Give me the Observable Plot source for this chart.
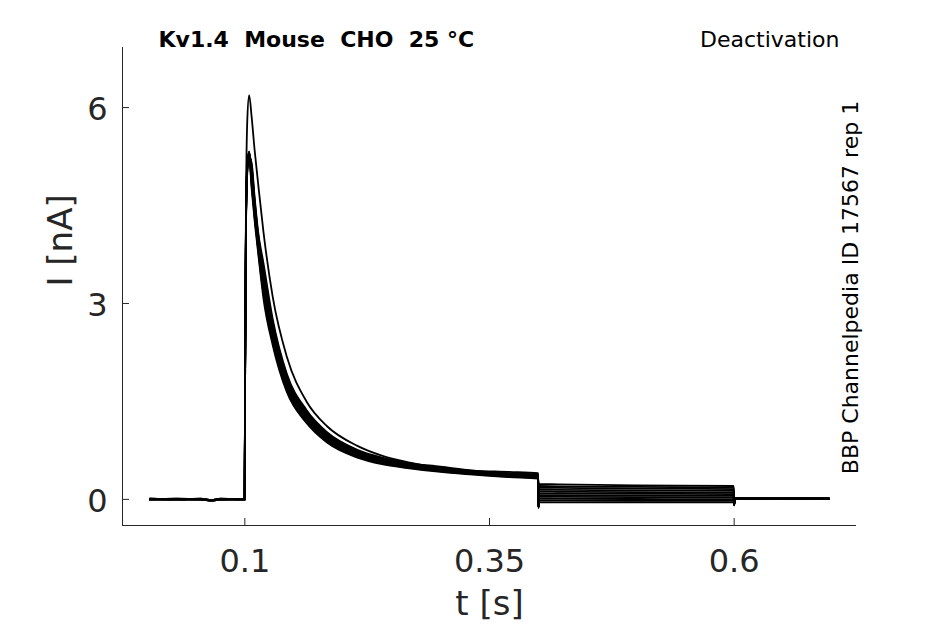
<!DOCTYPE html>
<html>
<head>
<meta charset="utf-8">
<script src="https://cdn.jsdelivr.net/npm/d3@7"></script>
<script src="https://cdn.jsdelivr.net/npm/@observablehq/plot@0.6"></script>
<style>
  html, body { margin: 0; padding: 0; background: #ffffff; }
  #chart svg { display: block; }
</style>
</head>
<body>
<div id="chart"></div>
<script>
// ---------- data ----------
const titleText = "Kv1.4  Mouse  CHO  25 °C";
const protocolText = "Deactivation";
const sideText = "BBP Channelpedia ID 17567 rep 1";
const xLabel = "t [s]";
const yLabel = "I [nA]";

const xTicks = [0.1, 0.35, 0.6];
const xTickLabels = ["0.1", "0.35", "0.6"];
const yTicks = [0, 3, 6];
const yTickLabels = ["0", "3", "6"];

const traceNames = ["A", "B1", "B2", "B3", "B4", "B5", "B6", "B7", "B8", "B9", "B10"];

// activation pulse + decay (seconds)
const tAct = [0.003, 0.03, 0.055, 0.066, 0.075, 0.0998, 0.1003, 0.1012, 0.1025, 0.1044,
              0.107, 0.110, 0.1135, 0.119, 0.1285, 0.143, 0.163, 0.184, 0.215, 0.24,
              0.266, 0.30, 0.333, 0.37, 0.3998];

// currents (nA) at tAct for each trace
const actA   = [0.00, 0.00, 0.00, -0.01, 0.00, 0.00, 2.2, 4.6, 5.8, 6.19, 5.85, 5.35, 4.85, 4.10, 3.10, 2.18, 1.50, 1.12, 0.82, 0.67, 0.57, 0.48, 0.44, 0.42, 0.40];
const actB1  = [0.00, 0.01, 0.00, -0.01, 0.00, 0.00, 1.9, 4.2, 5.00, 5.22, 4.75, 4.27, 3.79, 3.08, 2.36, 1.64, 1.17, 0.87, 0.64, 0.54, 0.48, 0.42, 0.38, 0.34, 0.32];
const actB2  = [0.01, 0.00, 0.00, -0.01, 0.01, 0.00, 2.0, 4.3, 5.05, 5.25, 4.80, 4.32, 3.83, 3.15, 2.41, 1.67, 1.19, 0.89, 0.66, 0.55, 0.49, 0.43, 0.39, 0.35, 0.33];
const actB3  = [0.00, 0.00, 0.01, -0.02, 0.00, 0.01, 2.0, 4.3, 5.10, 5.28, 4.85, 4.36, 3.87, 3.22, 2.46, 1.71, 1.22, 0.91, 0.67, 0.57, 0.50, 0.44, 0.39, 0.36, 0.34];
const actB4  = [0.00, 0.00, 0.00, -0.01, 0.00, 0.00, 2.0, 4.3, 5.10, 5.30, 4.90, 4.41, 3.91, 3.28, 2.51, 1.74, 1.24, 0.93, 0.69, 0.58, 0.51, 0.45, 0.40, 0.36, 0.34];
const actB5  = [0.01, 0.00, 0.00, -0.02, 0.00, 0.00, 2.1, 4.4, 5.15, 5.32, 4.95, 4.45, 3.95, 3.35, 2.56, 1.78, 1.27, 0.95, 0.70, 0.59, 0.52, 0.46, 0.41, 0.37, 0.35];
const actB6  = [0.00, 0.01, 0.00, -0.01, 0.00, 0.00, 2.1, 4.4, 5.15, 5.33, 4.97, 4.47, 3.97, 3.38, 2.59, 1.80, 1.28, 0.96, 0.71, 0.60, 0.53, 0.46, 0.41, 0.37, 0.35];
const actB7  = [0.00, 0.00, 0.00, -0.02, 0.01, 0.00, 2.0, 4.3, 5.10, 5.31, 5.02, 4.52, 4.01, 3.45, 2.64, 1.83, 1.31, 0.98, 0.72, 0.61, 0.54, 0.47, 0.42, 0.38, 0.36];
const actB8  = [0.00, 0.00, 0.01, -0.01, 0.00, 0.00, 2.0, 4.3, 5.10, 5.29, 5.07, 4.56, 4.05, 3.52, 2.69, 1.87, 1.33, 1.00, 0.74, 0.62, 0.55, 0.48, 0.43, 0.39, 0.37];
const actB9  = [0.01, 0.00, 0.00, -0.02, 0.00, 0.01, 2.0, 4.3, 5.05, 5.27, 5.10, 4.58, 4.07, 3.55, 2.71, 1.89, 1.35, 1.01, 0.74, 0.63, 0.55, 0.49, 0.43, 0.39, 0.37];
const actB10 = [0.00, 0.00, 0.00, -0.01, 0.00, 0.00, 1.9, 4.2, 5.05, 5.25, 5.15, 4.63, 4.11, 3.62, 2.76, 1.92, 1.37, 1.03, 0.76, 0.64, 0.56, 0.50, 0.44, 0.40, 0.38];

// deactivation step (seconds)
const tDeact = [0.4, 0.4008, 0.42, 0.5, 0.5995];
const deactA   = [-0.10, 0.235, 0.23, 0.215, 0.205];
const deactB1  = [-0.13, -0.045, -0.045, -0.046, -0.047];
const deactB2  = [-0.13, -0.02, -0.02, -0.022, -0.024];
const deactB3  = [-0.12, 0.010, 0.009, 0.006, 0.004];
const deactB4  = [-0.12, 0.040, 0.038, 0.034, 0.031];
const deactB5  = [-0.12, 0.065, 0.063, 0.058, 0.054];
const deactB6  = [-0.12, 0.095, 0.092, 0.086, 0.081];
const deactB7  = [-0.11, 0.120, 0.117, 0.110, 0.104];
const deactB8  = [-0.11, 0.150, 0.146, 0.138, 0.131];
const deactB9  = [-0.11, 0.180, 0.176, 0.166, 0.158];
const deactB10 = [-0.10, 0.205, 0.200, 0.190, 0.181];

// return to holding (seconds)
const tTail = [0.6, 0.6008, 0.62, 0.66, 0.697];
const tailA   = [-0.08, 0.015, 0.010, 0.012, 0.010];
const tailB1  = [-0.09, 0.010, 0.012, 0.010, 0.012];
const tailB2  = [-0.09, 0.012, 0.010, 0.014, 0.010];
const tailB3  = [-0.09, 0.015, 0.012, 0.010, 0.012];
const tailB4  = [-0.08, 0.012, 0.014, 0.012, 0.010];
const tailB5  = [-0.08, 0.015, 0.010, 0.012, 0.014];
const tailB6  = [-0.08, 0.014, 0.012, 0.010, 0.012];
const tailB7  = [-0.08, 0.015, 0.014, 0.012, 0.010];
const tailB8  = [-0.07, 0.012, 0.012, 0.014, 0.012];
const tailB9  = [-0.07, 0.014, 0.010, 0.012, 0.010];
const tailB10 = [-0.07, 0.015, 0.012, 0.010, 0.012];

const actSets   = [actA, actB1, actB2, actB3, actB4, actB5, actB6, actB7, actB8, actB9, actB10];
const deactSets = [deactA, deactB1, deactB2, deactB3, deactB4, deactB5, deactB6, deactB7, deactB8, deactB9, deactB10];
const tailSets  = [tailA, tailB1, tailB2, tailB3, tailB4, tailB5, tailB6, tailB7, tailB8, tailB9, tailB10];

// ---------- table for Plot ----------
const rows = [];
traceNames.forEach((name, k) => {
  tAct.forEach((t, i) => rows.push({trace: name, t, I: actSets[k][i]}));
  tDeact.forEach((t, i) => rows.push({trace: name, t, I: deactSets[k][i]}));
  tTail.forEach((t, i) => rows.push({trace: name, t, I: tailSets[k][i]}));
});

const xLabelMap = new Map(xTicks.map((d, i) => [d, xTickLabels[i]]));
const yLabelMap = new Map(yTicks.map((d, i) => [d, yTickLabels[i]]));

const xDomain = [-0.025, 0.725];
const yDomain = [-0.4, 6.92];
const axisColor = "#262626";

const chart = Plot.plot({
  width: 945,
  height: 624,
  marginLeft: 122,
  marginRight: 89,
  marginTop: 47,
  marginBottom: 99,
  x: {domain: xDomain},
  y: {domain: yDomain},
  style: {fontFamily: "DejaVu Sans", color: axisColor, background: "#ffffff", overflow: "visible"},
  marks: [
    // axis lines (left and bottom only)
    Plot.ruleX([xDomain[0]], {stroke: axisColor, strokeWidth: 1}),
    Plot.ruleY([yDomain[0]], {stroke: axisColor, strokeWidth: 1}),
    // inward tick marks
    Plot.tickX(xTicks, {x: d => d, insetTop: 471, stroke: axisColor, strokeWidth: 1}),
    Plot.tickY(yTicks, {y: d => d, insetRight: 727, stroke: axisColor, strokeWidth: 1}),
    // tick labels
    Plot.axisX(xTicks, {tickSize: 0, tickPadding: 24, fontSize: 32, label: null,
                        tickFormat: d => xLabelMap.get(d), fill: axisColor}),
    Plot.axisY(yTicks, {tickSize: 0, tickPadding: 15, fontSize: 32, label: null, dy: 2,
                        tickFormat: d => yLabelMap.get(d), fill: axisColor}),
    // traces
    Plot.line(rows, {x: "t", y: "I", z: "trace", stroke: "#000000", strokeWidth: 1.8,
                     curve: "monotone-x", strokeLinejoin: "round"}),
    // axis titles
    Plot.text([xLabel], {frameAnchor: "bottom", dy: 89, lineAnchor: "bottom",
                         fontSize: 34, fill: axisColor}),
    Plot.text([yLabel], {frameAnchor: "left", dx: -51, rotate: -90, lineAnchor: "bottom",
                         fontSize: 34, fill: axisColor}),
    // header texts
    Plot.text([titleText], {frameAnchor: "top-left", dx: 36, dy: -1, textAnchor: "start",
                            lineAnchor: "bottom", fontSize: 22, fontWeight: "bold", fill: "#000000"}),
    Plot.text([protocolText], {frameAnchor: "top-right", dx: -17, dy: -1, textAnchor: "end",
                               lineAnchor: "bottom", fontSize: 22, fill: "#000000"}),
    Plot.text([sideText], {frameAnchor: "right", dx: 1, dy: 1, rotate: -90, textAnchor: "middle",
                           lineAnchor: "bottom", fontSize: 22, fill: "#000000"})
  ]
});

document.getElementById("chart").appendChild(chart);
</script>
</body>
</html>
